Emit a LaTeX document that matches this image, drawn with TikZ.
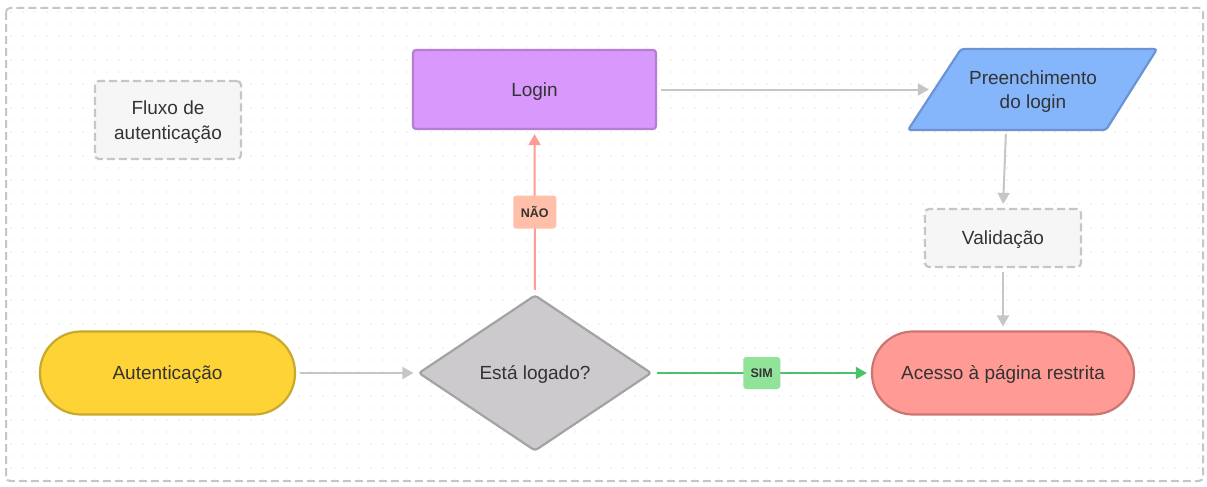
\documentclass[tikz,border=0pt]{standalone}
\usepackage{fontspec}
\setmainfont{Liberation Sans}
\usetikzlibrary{shapes.geometric,arrows.meta}
\definecolor{txt}{HTML}{333333}
\definecolor{gridc}{HTML}{D2D2D2}
\definecolor{frame}{HTML}{C6C6C6}
\definecolor{notefill}{HTML}{F6F6F6}
\definecolor{loginfill}{HTML}{D898FC}
\definecolor{logindraw}{HTML}{B27FD3}
\definecolor{prefill}{HTML}{85B6FC}
\definecolor{predraw}{HTML}{6C93D2}
\definecolor{autfill}{HTML}{FDD335}
\definecolor{autdraw}{HTML}{C9A82E}
\definecolor{diafill}{HTML}{CCCACC}
\definecolor{diadraw}{HTML}{A3A3A3}
\definecolor{accfill}{HTML}{FF9A94}
\definecolor{accdraw}{HTML}{CC7672}
\definecolor{garrow}{HTML}{C6C6C6}
\definecolor{rarrow}{HTML}{FE9C95}
\definecolor{gnarrow}{HTML}{4AC36A}
\definecolor{naofill}{HTML}{FFBFA9}
\definecolor{simfill}{HTML}{92E39A}
\tikzset{
  base/.style={font=\fontsize{19}{24.5}\selectfont, text=txt, align=center, line width=2.2pt, inner sep=0pt, text depth=0pt},
  notebox/.style={base, draw=frame, fill=notefill, dashed, dash pattern=on 8pt off 4pt, rounded corners=4pt},
  procbox/.style={base, draw=logindraw, fill=loginfill, rounded corners=3pt},
  termbox/.style={base, rounded corners=41pt},
  decbox/.style={base, diamond, draw=diadraw, fill=diafill, rounded corners=3pt, aspect=1.5},
  lbl/.style={font=\fontsize{12.5}{14}\selectfont\bfseries, text=txt, rounded corners=3pt, inner sep=0pt},
  conn/.style={line width=2pt, shorten <=4pt, shorten >=4pt, -{Triangle[length=11pt,width=12pt]}},
}
\begin{document}
\begin{tikzpicture}[x=1pt,y=-1pt]
\useasboundingbox (0,0) rectangle (1207,487);
\fill[white] (0,0) rectangle (1207,487);
% dotted grid
\foreach \i in {0,...,99} {
  \foreach \j in {0,...,39} {
    \fill[gridc] (11+12*\i, 12+12*\j) circle (0.7pt);
  }
}
% outer frame
\draw[frame, line width=2pt, dash pattern=on 8pt off 4pt, rounded corners=4pt] (6,8) rectangle (1203,481);

% nodes
\node[notebox, minimum width=146pt, minimum height=78pt] (flux) at (168,120) {Fluxo de\\autenticação};
\node[procbox, minimum width=243pt, minimum height=79pt] (login) at (534.5,89.5) {Login};
\draw[line width=2.2pt, draw=predraw, fill=prefill, rounded corners=3pt]
  (961,49) -- (1157,49) -- (1106,130) -- (908,130) -- cycle;
\node[base, minimum width=198pt, minimum height=81pt] (pre) at (1033,89.5) {Preenchimento\\do login};
\coordinate (preb) at (1006,130);
\node[notebox, minimum width=156pt, minimum height=58pt] (valid) at (1003,238) {Validação};
\node[termbox, draw=autdraw, fill=autfill, minimum width=255pt, minimum height=83pt] (aut) at (167.5,373) {Autenticação};
\node[decbox, minimum width=233pt, minimum height=156pt] (dec) at (535,373) {Está logado?};
\node[termbox, draw=accdraw, fill=accfill, minimum width=262pt, minimum height=83pt] (acc) at (1003,373) {Acesso à página restrita};

% connectors
\draw[conn, garrow] (aut.east) -- (dec.west);
\draw[conn, rarrow] (dec.north) -- node[lbl, fill=naofill, minimum width=43pt, minimum height=33pt] (nao) {NÃO} (login.south);
\draw[conn, gnarrow] (dec.east) -- node[lbl, fill=simfill, minimum width=37pt, minimum height=32pt] (sim) {SIM} (acc.west);
\draw[conn, garrow] (login.east) -- (pre.west);
\draw[conn, garrow] (preb) -- (valid.north);
\draw[conn, garrow] (valid.south) -- (acc.north);
\end{tikzpicture}
\end{document}
